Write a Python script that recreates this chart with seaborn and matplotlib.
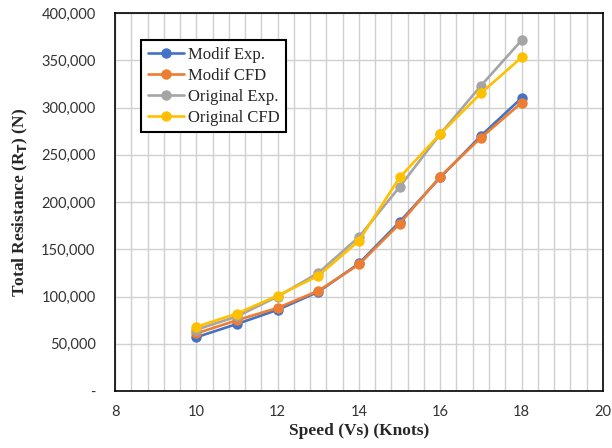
import numpy as np
import pandas as pd
import matplotlib
matplotlib.use('Agg')
import matplotlib.pyplot as plt
import seaborn as sns
from matplotlib.ticker import FuncFormatter, MultipleLocator

speed = [10, 11, 12, 13, 14, 15, 16, 17, 18]
modif_exp = [57000, 71000, 86000, 105000, 135000, 179000, 226000, 270000, 310000]
modif_cfd = [61000, 75000, 88000, 106000, 134000, 177000, 227000, 268000, 305000]
original_exp = [65000, 79000, 100000, 125000, 163000, 216000, 272000, 323000, 371000]
original_cfd = [68000, 82000, 101000, 122000, 159000, 226000, 272000, 315000, 353000]

series_names = ['Modif Exp.', 'Modif CFD', 'Original Exp.', 'Original CFD']
colors = ['#4472C4', '#ED7D31', '#A5A5A5', '#FFC000']

rows = []
for name, vals in zip(series_names, [modif_exp, modif_cfd, original_exp, original_cfd]):
    for s, v in zip(speed, vals):
        rows.append({'speed': s, 'resistance': v, 'series': name})
df = pd.DataFrame(rows)

sns.set_style('white')
fig = plt.figure(figsize=(6.12, 4.48), dpi=100)
ax = fig.add_axes([0.188, 0.127, 0.797, 0.844])

sns.lineplot(data=df, x='speed', y='resistance', hue='series', hue_order=series_names,
             palette=colors, marker='o', markersize=7.5, markeredgewidth=0,
             linewidth=1.9, ax=ax, legend=True)

ax.set_xlim(8, 20)
ax.set_ylim(0, 400000)
ax.xaxis.set_major_locator(MultipleLocator(2))
ax.xaxis.set_minor_locator(MultipleLocator(0.4))
ax.yaxis.set_major_locator(MultipleLocator(50000))
ax.yaxis.set_major_formatter(FuncFormatter(lambda v, p: '-' if v == 0 else f'{int(v):,}'))
ax.grid(True, which='both', axis='x', color='#D0D0D0', linewidth=1.0)
ax.grid(True, which='major', axis='y', color='#D0D0D0', linewidth=1.0)
ax.set_axisbelow(True)
ax.tick_params(which='both', length=0)
ax.tick_params(axis='both', labelsize=10.5, colors='#333333')
ax.tick_params(axis='x', pad=10)
ax.tick_params(axis='y', pad=14)
for lab in ax.get_xticklabels() + ax.get_yticklabels():
    lab.set_fontfamily('Lato')

for sp in ax.spines.values():
    sp.set_color('black')
    sp.set_linewidth(1.2)

serif = ['Liberation Serif', 'DejaVu Serif']
ax.set_xlabel('Speed (Vs) (Knots)', fontsize=12.5, fontweight='bold', family=serif, labelpad=3)
ax.set_ylabel(r'Total Resistance (R$_\mathbf{T}$) (N)', fontsize=12.5, fontweight='bold',
              family=serif, labelpad=8)

leg = ax.legend(loc='upper left', bbox_to_anchor=(0.053, 0.929), borderaxespad=0,
                frameon=True, fancybox=False, edgecolor='black', framealpha=1,
                prop={'family': serif, 'size': 12}, handlelength=2.2, handletextpad=0.2,
                labelspacing=0.3, borderpad=0.4)
leg.get_frame().set_linewidth(1.5)

fig.savefig('out.png', dpi=100)
